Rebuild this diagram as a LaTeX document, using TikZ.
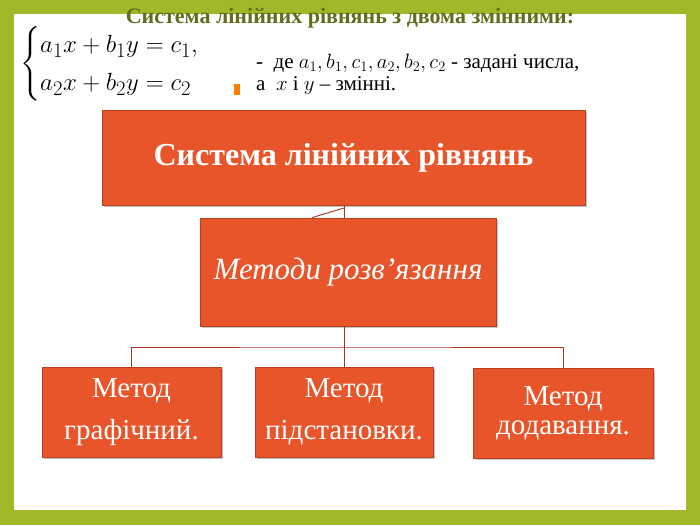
\documentclass[tikz,border=0pt]{standalone}
\usepackage{fontspec}
\setmainfont{Liberation Serif}
\usepackage{amsmath}
\usetikzlibrary{shadows}
\definecolor{bord}{HTML}{A2B828}
\definecolor{boxf}{HTML}{E8552A}
\definecolor{boxd}{HTML}{B8401C}
\definecolor{lin}{HTML}{A8321C}
\definecolor{ttl}{HTML}{5F6E1C}
\tikzset{
  box/.style={draw=boxd, line width=0.8pt, fill=boxf, text=white, align=center, inner sep=0pt,
    drop shadow={shadow xshift=1.5pt, shadow yshift=-1.5pt, fill=black!45}},
  con/.style={draw=lin, line width=0.9pt}
}
\begin{document}
\begin{tikzpicture}[x=1pt,y=-1pt]
\fill[bord] (0,0) rectangle (700,525);
\fill[white] (14,14) rectangle (686,510);
\useasboundingbox (0,0) rectangle (700,525);
\node[text=ttl, font=\fontsize{22}{26}\selectfont\bfseries, inner sep=0pt] (title) at (350,18) {Система лінійних рівнянь з двома змінними:};
\node[anchor=west, font=\fontsize{29}{32}\selectfont, inner sep=0pt] (eq) at (20,64)
  {\renewcommand{\arraystretch}{0.75}$\begin{cases} a_1x+b_1y=c_1,\\ a_2x+b_2y=c_2\end{cases}$};
\fill[orange] (234,84) rectangle (240,95);
\node[anchor=west, font=\fontsize{21}{24}\selectfont, inner sep=0pt] (t1) at (256,63)
  {-\ \ де $a_1,b_1,c_1,a_2,b_2,c_2$ - задані числа,};
\node[anchor=west, font=\fontsize{21}{24}\selectfont, inner sep=0pt] (t2) at (256,86)
  {а\ \ $x$ і $y$ -- змінні.};
\node[box, minimum width=483, minimum height=95, font=\fontsize{32}{36}\selectfont\bfseries] (top) at (343.5,157.5) {Система лінійних рівнянь};
\node[box, minimum width=296, minimum height=108, font=\fontsize{31}{34}\selectfont\itshape] (mid) at (348,272) {Методи розв'язання};
\node[box, minimum width=179, minimum height=90, font=\fontsize{29}{42}\selectfont] (b1) at (131.5,412) {Метод\\графічний.};
\node[box, minimum width=178, minimum height=90, font=\fontsize{29}{42}\selectfont] (b2) at (344,412) {Метод\\підстановки.};
\node[box, minimum width=180, minimum height=90, font=\fontsize{29}{29}\selectfont] (b3) at (563,413) {Метод\\додавання.};
\coordinate (j) at (344,347);
\draw[con] (344,205.4) -- (344,217.6);
\draw[con] (344,208) -- (312,217.6);
\draw[con] (mid.south -| j) -- (j);
\draw[con] (b1.north) |- (j) -| (b3.north);
\draw[con] (j) -- (b2.north -| j);
\end{tikzpicture}
\end{document}
